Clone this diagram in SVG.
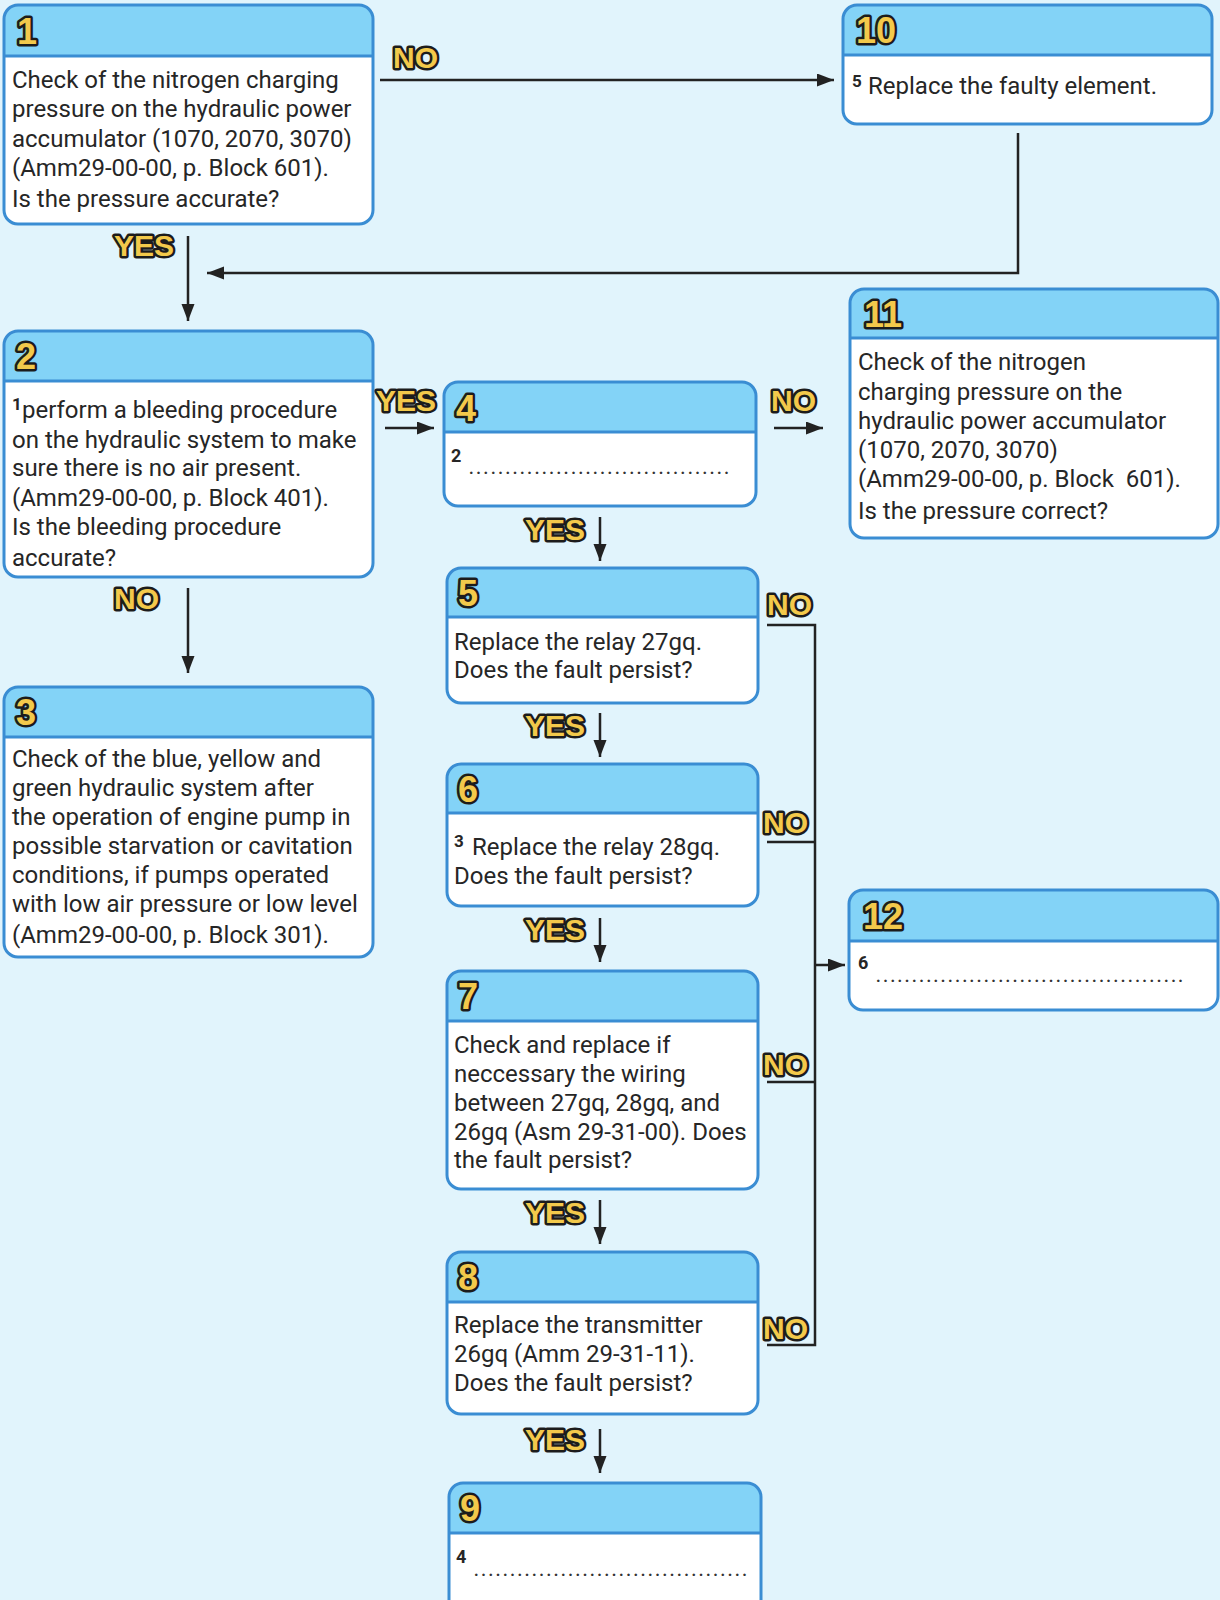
<svg xmlns="http://www.w3.org/2000/svg" width="1220" height="1600" viewBox="0 0 1220 1600">
<style>
.bg{fill:#e1f4fc}
.body{fill:#ffffff}
.hdr{fill:#83d3f7}
.div{stroke:#3a8dd3;stroke-width:3}
.frame{fill:none;stroke:#3a8dd3;stroke-width:3}
.num{font-family:"Liberation Sans",Arial,sans-serif;font-weight:bold;font-size:36px;fill:#f3c94b;stroke:#1c1c1c;stroke-width:5;paint-order:stroke;stroke-linejoin:round}
.lbl{font-family:"Liberation Sans",Arial,sans-serif;font-weight:bold;font-size:30px;fill:#f3c94b;stroke:#1c1c1c;stroke-width:5;paint-order:stroke;stroke-linejoin:round}
.t{font-family:Roboto,"Liberation Sans",sans-serif;font-size:24px;fill:#262626}
.sup{font-family:Roboto,"Liberation Sans",sans-serif;font-size:17px;font-weight:bold;fill:#262626}
.fn{font-family:Roboto,"Liberation Sans",sans-serif;font-size:18px;font-weight:bold;fill:#262626}
.dots{font-family:Roboto,"Liberation Sans",sans-serif;font-size:16px;font-weight:bold;fill:#333333}
.ln{fill:none;stroke:#222222;stroke-width:2.5}
</style>
<defs>
<marker id="arr" markerUnits="userSpaceOnUse" markerWidth="18" markerHeight="14" refX="17" refY="6.5" orient="auto">
<path d="M0,0 L17,6.5 L0,13 Z" fill="#222222"/>
</marker>
</defs>
<rect class="bg" x="0" y="0" width="1220" height="1600"/>

<g id="connectors">
<line class="ln" x1="380" y1="80" x2="834" y2="80" marker-end="url(#arr)"/>
<polyline class="ln" points="1018,133 1018,273 207,273" marker-end="url(#arr)"/>
<line class="ln" x1="188" y1="236" x2="188" y2="321" marker-end="url(#arr)"/>
<line class="ln" x1="385" y1="428" x2="434" y2="428" marker-end="url(#arr)"/>
<line class="ln" x1="774" y1="428" x2="823" y2="428" marker-end="url(#arr)"/>
<line class="ln" x1="188" y1="588" x2="188" y2="673" marker-end="url(#arr)"/>
<line class="ln" x1="600" y1="517" x2="600" y2="561" marker-end="url(#arr)"/>
<line class="ln" x1="600" y1="713" x2="600" y2="757" marker-end="url(#arr)"/>
<line class="ln" x1="600" y1="918" x2="600" y2="962" marker-end="url(#arr)"/>
<line class="ln" x1="600" y1="1200" x2="600" y2="1244" marker-end="url(#arr)"/>
<line class="ln" x1="600" y1="1429" x2="600" y2="1473" marker-end="url(#arr)"/>
<polyline class="ln" points="767,625 815,625 815,1345 767,1345"/>
<line class="ln" x1="767" y1="842" x2="815" y2="842"/>
<line class="ln" x1="767" y1="1082" x2="815" y2="1082"/>
<line class="ln" x1="815" y1="965" x2="845" y2="965" marker-end="url(#arr)"/>
<text class="lbl" x="393" y="68">NO</text>
<text class="lbl" x="114" y="256">YES</text>
<text class="lbl" x="376" y="411">YES</text>
<text class="lbl" x="771" y="411">NO</text>
<text class="lbl" x="114" y="609">NO</text>
<text class="lbl" x="525" y="540">YES</text>
<text class="lbl" x="525" y="736">YES</text>
<text class="lbl" x="525" y="940">YES</text>
<text class="lbl" x="525" y="1223">YES</text>
<text class="lbl" x="525" y="1450">YES</text>
<text class="lbl" x="767" y="615">NO</text>
<text class="lbl" x="763" y="833">NO</text>
<text class="lbl" x="763" y="1075">NO</text>
<text class="lbl" x="763" y="1339">NO</text>
</g>

<g id="node-1">
<rect class="body" x="4" y="5" width="369" height="219" rx="14"/>
<path class="hdr" d="M4,56 V19 A14,14 0 0 1 18,5 H359 A14,14 0 0 1 373,19 V56 Z"/>
<line class="div" x1="4" y1="56" x2="373" y2="56"/>
<rect class="frame" x="4" y="5" width="369" height="219" rx="14"/>
<text class="num" x="17" y="44">1</text>
<text class="t" x="12" y="88">Check of the nitrogen charging</text>
<text class="t" x="12" y="117">pressure on the hydraulic power</text>
<text class="t" x="12" y="147">accumulator (1070, 2070, 3070)</text>
<text class="t" x="12" y="176">(Amm29-00-00, p. Block 601).</text>
<text class="t" x="12" y="207">Is the pressure accurate?</text>
</g>

<g id="node-2">
<rect class="body" x="4" y="331" width="369" height="246" rx="14"/>
<path class="hdr" d="M4,381 V345 A14,14 0 0 1 18,331 H359 A14,14 0 0 1 373,345 V381 Z"/>
<line class="div" x1="4" y1="381" x2="373" y2="381"/>
<rect class="frame" x="4" y="331" width="369" height="246" rx="14"/>
<text class="num" x="16" y="369">2</text>
<text class="sup" x="12" y="410">1</text>
<text class="t" x="22" y="418">perform a bleeding procedure</text>
<text class="t" x="12" y="448">on the hydraulic system to make</text>
<text class="t" x="12" y="476">sure there is no air present.</text>
<text class="t" x="12" y="506">(Amm29-00-00, p. Block 401).</text>
<text class="t" x="12" y="535">Is the bleeding procedure</text>
<text class="t" x="12" y="566">accurate?</text>
</g>

<g id="node-3">
<rect class="body" x="4" y="687" width="369" height="270" rx="14"/>
<path class="hdr" d="M4,737 V701 A14,14 0 0 1 18,687 H359 A14,14 0 0 1 373,701 V737 Z"/>
<line class="div" x1="4" y1="737" x2="373" y2="737"/>
<rect class="frame" x="4" y="687" width="369" height="270" rx="14"/>
<text class="num" x="16" y="725">3</text>
<text class="t" x="12" y="767">Check of the blue, yellow and</text>
<text class="t" x="12" y="796">green hydraulic system after</text>
<text class="t" x="12" y="825">the operation of engine pump in</text>
<text class="t" x="12" y="854">possible starvation or cavitation</text>
<text class="t" x="12" y="883">conditions, if pumps operated</text>
<text class="t" x="12" y="912">with low air pressure or low level</text>
<text class="t" x="12" y="943">(Amm29-00-00, p. Block 301).</text>
</g>

<g id="node-4">
<rect class="body" x="444" y="382" width="312" height="124" rx="14"/>
<path class="hdr" d="M444,432 V396 A14,14 0 0 1 458,382 H742 A14,14 0 0 1 756,396 V432 Z"/>
<line class="div" x1="444" y1="432" x2="756" y2="432"/>
<rect class="frame" x="444" y="382" width="312" height="124" rx="14"/>
<text class="num" x="456" y="421">4</text>
<text class="fn" x="451" y="462">2</text>
<text class="dots" x="469" y="474" textLength="260" lengthAdjust="spacing">....................................</text>
</g>

<g id="node-5">
<rect class="body" x="447" y="568" width="311" height="135" rx="14"/>
<path class="hdr" d="M447,617 V582 A14,14 0 0 1 461,568 H744 A14,14 0 0 1 758,582 V617 Z"/>
<line class="div" x1="447" y1="617" x2="758" y2="617"/>
<rect class="frame" x="447" y="568" width="311" height="135" rx="14"/>
<text class="num" x="458" y="606">5</text>
<text class="t" x="454" y="650">Replace the relay 27gq.</text>
<text class="t" x="454" y="678">Does the fault persist?</text>
</g>

<g id="node-6">
<rect class="body" x="447" y="764" width="311" height="142" rx="14"/>
<path class="hdr" d="M447,813 V778 A14,14 0 0 1 461,764 H744 A14,14 0 0 1 758,778 V813 Z"/>
<line class="div" x1="447" y1="813" x2="758" y2="813"/>
<rect class="frame" x="447" y="764" width="311" height="142" rx="14"/>
<text class="num" x="458" y="802">6</text>
<text class="sup" x="454" y="847">3</text>
<text class="t" x="472" y="855">Replace the relay 28gq.</text>
<text class="t" x="454" y="884">Does the fault persist?</text>
</g>

<g id="node-7">
<rect class="body" x="447" y="971" width="311" height="218" rx="14"/>
<path class="hdr" d="M447,1021 V985 A14,14 0 0 1 461,971 H744 A14,14 0 0 1 758,985 V1021 Z"/>
<line class="div" x1="447" y1="1021" x2="758" y2="1021"/>
<rect class="frame" x="447" y="971" width="311" height="218" rx="14"/>
<text class="num" x="458" y="1009">7</text>
<text class="t" x="454" y="1053">Check and replace if</text>
<text class="t" x="454" y="1082">neccessary the wiring</text>
<text class="t" x="454" y="1111">between 27gq, 28gq, and</text>
<text class="t" x="454" y="1140">26gq (Asm 29-31-00). Does</text>
<text class="t" x="454" y="1168">the fault persist?</text>
</g>

<g id="node-8">
<rect class="body" x="447" y="1252" width="311" height="162" rx="14"/>
<path class="hdr" d="M447,1302 V1266 A14,14 0 0 1 461,1252 H744 A14,14 0 0 1 758,1266 V1302 Z"/>
<line class="div" x1="447" y1="1302" x2="758" y2="1302"/>
<rect class="frame" x="447" y="1252" width="311" height="162" rx="14"/>
<text class="num" x="458" y="1290">8</text>
<text class="t" x="454" y="1333">Replace the transmitter</text>
<text class="t" x="454" y="1362">26gq (Amm 29-31-11).</text>
<text class="t" x="454" y="1391">Does the fault persist?</text>
</g>

<g id="node-9">
<rect class="body" x="449" y="1483" width="312" height="140" rx="14"/>
<path class="hdr" d="M449,1533 V1497 A14,14 0 0 1 463,1483 H747 A14,14 0 0 1 761,1497 V1533 Z"/>
<line class="div" x1="449" y1="1533" x2="761" y2="1533"/>
<rect class="frame" x="449" y="1483" width="312" height="140" rx="14"/>
<text class="num" x="460" y="1521">9</text>
<text class="fn" x="456" y="1563">4</text>
<text class="dots" x="474" y="1576" textLength="273" lengthAdjust="spacing">......................................</text>
</g>

<g id="node-10">
<rect class="body" x="843" y="5" width="369" height="119" rx="14"/>
<path class="hdr" d="M843,55 V19 A14,14 0 0 1 857,5 H1198 A14,14 0 0 1 1212,19 V55 Z"/>
<line class="div" x1="843" y1="55" x2="1212" y2="55"/>
<rect class="frame" x="843" y="5" width="369" height="119" rx="14"/>
<text class="num" x="856" y="43">10</text>
<text class="sup" x="852" y="87">5</text>
<text class="t" x="868" y="94">Replace the faulty element.</text>
</g>

<g id="node-11">
<rect class="body" x="850" y="289" width="368" height="249" rx="14"/>
<path class="hdr" d="M850,338 V303 A14,14 0 0 1 864,289 H1204 A14,14 0 0 1 1218,303 V338 Z"/>
<line class="div" x1="850" y1="338" x2="1218" y2="338"/>
<rect class="frame" x="850" y="289" width="368" height="249" rx="14"/>
<text class="num" x="864" y="327">11</text>
<text class="t" x="858" y="370">Check of the nitrogen</text>
<text class="t" x="858" y="400">charging pressure on the</text>
<text class="t" x="858" y="429">hydraulic power accumulator</text>
<text class="t" x="858" y="458">(1070, 2070, 3070)</text>
<text class="t" x="858" y="487" xml:space="preserve">(Amm29-00-00, p. Block  601).</text>
<text class="t" x="858" y="519">Is the pressure correct?</text>
</g>

<g id="node-12">
<rect class="body" x="849" y="890" width="369" height="120" rx="14"/>
<path class="hdr" d="M849,941 V904 A14,14 0 0 1 863,890 H1204 A14,14 0 0 1 1218,904 V941 Z"/>
<line class="div" x1="849" y1="941" x2="1218" y2="941"/>
<rect class="frame" x="849" y="890" width="369" height="120" rx="14"/>
<text class="num" x="863" y="929">12</text>
<text class="fn" x="858" y="969">6</text>
<text class="dots" x="876" y="982" textLength="307" lengthAdjust="spacing">...........................................</text>
</g>
</svg>
